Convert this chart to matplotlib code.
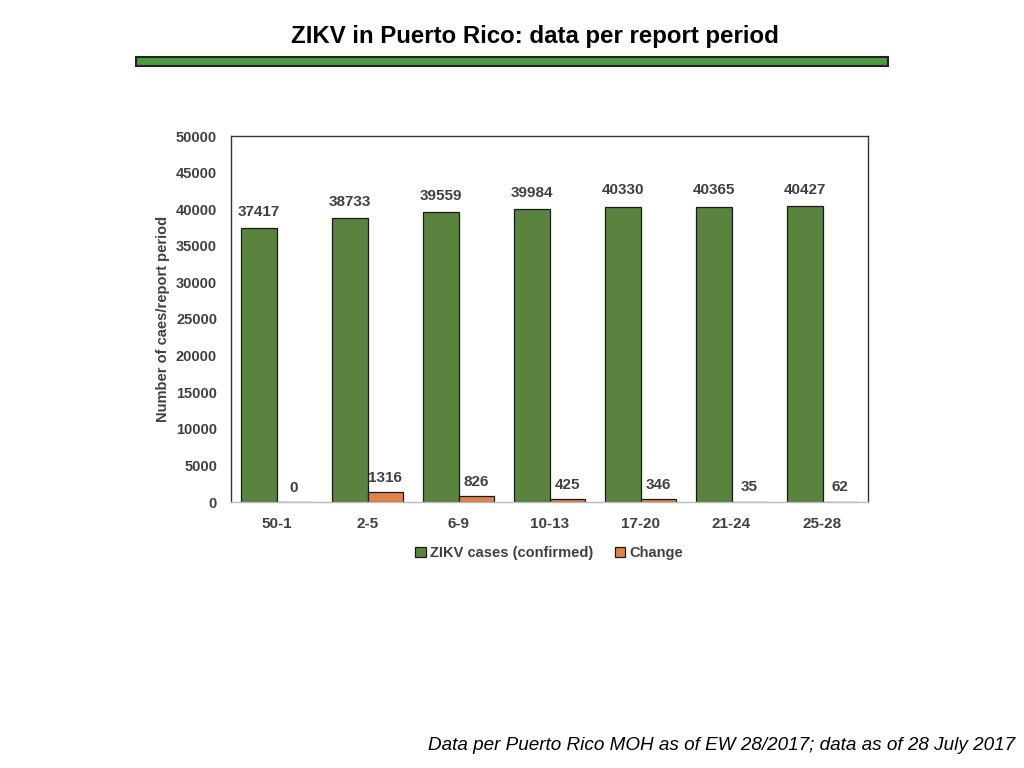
import numpy as np
import matplotlib.pyplot as plt
from matplotlib.patches import Rectangle

periods = ["50-1", "2-5", "6-9", "10-13", "17-20", "21-24", "25-28"]
cases = [37417, 38733, 39559, 39984, 40330, 40365, 40427]
change = [0, 1316, 826, 425, 346, 35, 62]

GREEN = "#5b8340"
ORANGE = "#e0834a"
TXT = "#404040"

plt.rcParams["font.family"] = ["Liberation Sans", "DejaVu Sans"]

fig = plt.figure(figsize=(10.24, 7.68), dpi=100)

# title and green rule
fig.text(535 / 1024, 1 - 37 / 768, "ZIKV in Puerto Rico: data per report period",
         ha="center", va="center", fontsize=17.3, fontweight="bold", color="black")
fig.patches.append(Rectangle((136 / 1024, 1 - 66 / 768), (888 - 136) / 1024, 9 / 768,
                             transform=fig.transFigure, facecolor="#4f9a44",
                             edgecolor="#222222", linewidth=1.5))

ax = fig.add_axes([231 / 1024, 1 - 502 / 768, (868 - 231) / 1024, (502 - 136) / 768])
x = np.arange(len(periods))
w = 0.385
b1 = ax.bar(x - w / 2, cases, w, color=GREEN, edgecolor="#1a1a1a", linewidth=0.9,
            label="ZIKV cases (confirmed)")
b2 = ax.bar(x + w / 2, change, w, color=ORANGE, edgecolor="#1a1a1a", linewidth=0.9,
            label="Change")

for rect, v in zip(b1, cases):
    ax.text(rect.get_x() + rect.get_width() / 2, v + 1300, str(v), ha="center", va="bottom",
            fontsize=11, fontweight="bold", color=TXT)
for rect, v in zip(b2, change):
    ax.text(rect.get_x() + rect.get_width() / 2, v + 1000, str(v), ha="center", va="bottom",
            fontsize=11, fontweight="bold", color=TXT)

ax.set_ylim(0, 50000)
ax.set_xlim(-0.5, len(periods) - 0.5)
ax.set_yticks(np.arange(0, 50001, 5000))
ax.set_xticks(x)
ax.set_xticklabels(periods)
ax.tick_params(axis="y", length=0, labelsize=10.5, labelcolor=TXT, pad=10)
ax.tick_params(axis="x", length=0, labelsize=11, labelcolor=TXT, pad=11)
for lbl in ax.get_xticklabels() + ax.get_yticklabels():
    lbl.set_fontweight("bold")
for s in ["left", "top", "right"]:
    ax.spines[s].set_color("#333333")
    ax.spines[s].set_linewidth(1.0)
ax.spines["bottom"].set_color("#bbbbbb")
ax.spines["bottom"].set_linewidth(1.0)

ax.set_ylabel("Number of caes/report period", fontsize=10.5, fontweight="bold", color=TXT,
              labelpad=4)

leg = ax.legend(loc="upper center", bbox_to_anchor=(0.5, -0.085), ncol=2, frameon=False,
                fontsize=10.5, handlelength=0.7, handleheight=0.7, handletextpad=0.3,
                columnspacing=1.5)
for t in leg.get_texts():
    t.set_fontweight("bold")
    t.set_color(TXT)

fig.text(1015 / 1024, 1 - 745 / 768,
         "Data per Puerto Rico MOH as of EW 28/2017; data as of 28 July 2017",
         ha="right", va="center", fontsize=13.6, style="italic", color="black")

fig.savefig("out.png", dpi=100)
